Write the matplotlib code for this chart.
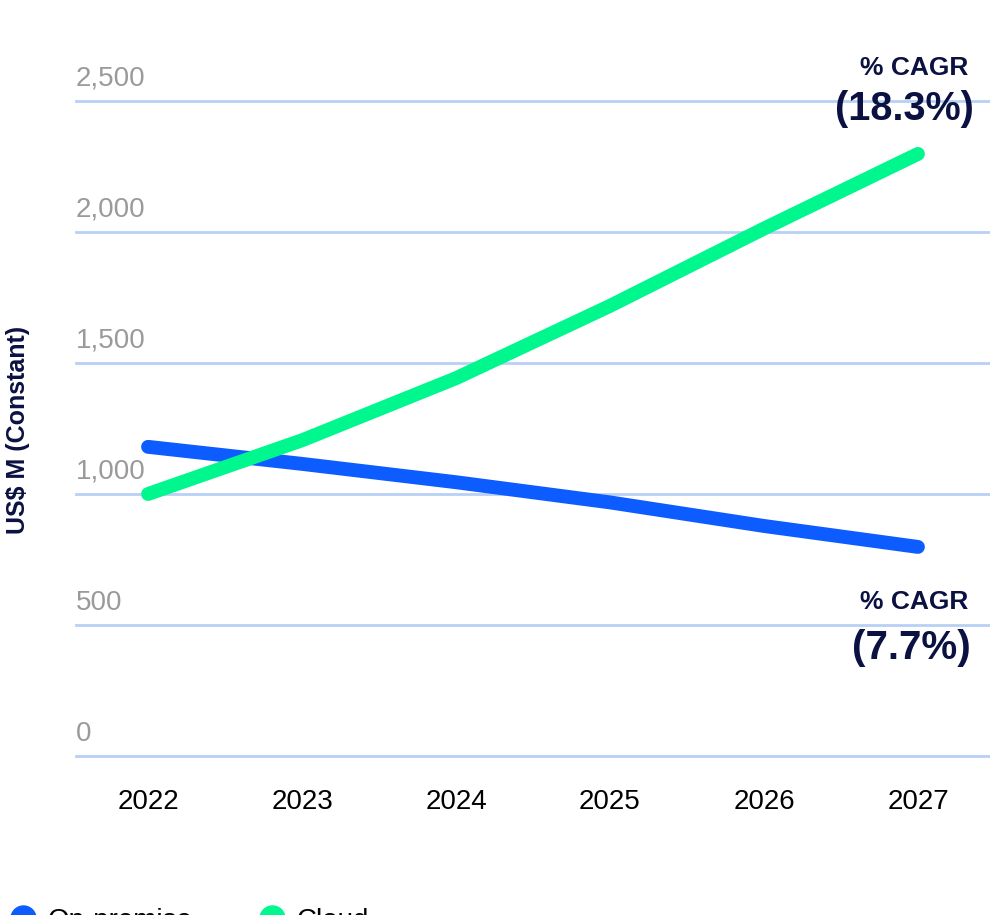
import matplotlib
matplotlib.use("Agg")
import matplotlib.pyplot as plt
from matplotlib.lines import Line2D
from matplotlib.transforms import blended_transform_factory

plt.rcParams['font.family'] = ['Liberation Sans', 'DejaVu Sans']

years = [2022, 2023, 2024, 2025, 2026, 2027]
on_premise = [1180, 1115, 1045, 968, 878, 798]
cloud = [1000, 1205, 1442, 1718, 2013, 2298]
y_ticks = [0, 500, 1000, 1500, 2000, 2500]
y_tick_labels = ["0", "500", "1,000", "1,500", "2,000", "2,500"]
series_names = ["On-premise", "Cloud"]
cagr_labels = ["(7.7%)", "(18.3%)"]

BLUE = '#0c5cff'
GREEN = '#00f78e'
NAVY = '#0b1140'
GRID = '#b9d0f6'
GRAY = '#9a9a9a'

fig = plt.figure(figsize=(9.9, 9.15), dpi=100)
ax = fig.add_axes([76/990, 1 - 756/915, 1 - 76/990, (756 - 101)/915])

ax.set_xlim(2021.532, 2027.468)
ax.set_ylim(0, 2500)

for v in y_ticks:
    ax.axhline(v, color=GRID, lw=2, zorder=1, clip_on=False)

ax.plot(years, on_premise, color=BLUE, lw=10, solid_capstyle='round',
        clip_on=False, zorder=3)
ax.plot(years, cloud, color=GREEN, lw=10, solid_capstyle='round',
        clip_on=False, zorder=4)

for sp in ax.spines.values():
    sp.set_visible(False)
ax.set_yticks([])
ax.set_xticks(years)
ax.set_xticklabels([str(y) for y in years], fontsize=20, color='black')
ax.tick_params(axis='x', length=0, pad=24)

trans = blended_transform_factory(ax.transAxes, ax.transData)
for v, lab in zip(y_ticks, y_tick_labels):
    ax.text(0.0, v + 35, lab, transform=trans, ha='left', va='bottom',
            fontsize=20, color=GRAY)

fig.text(18/990, 1 - 430/915, "US$ M (Constant)", rotation=90, ha='center',
         va='center', fontsize=18, fontweight='bold', color=NAVY)

# CAGR annotations
fig.text(968/990, 1 - 68/915, "% CAGR", ha='right', va='center',
         fontsize=19, fontweight='bold', color=NAVY)
fig.text(974/990, 1 - 109/915, cagr_labels[1], ha='right', va='center',
         fontsize=28.5, fontweight='bold', color=NAVY)
fig.text(968/990, 1 - 602/915, "% CAGR", ha='right', va='center',
         fontsize=19, fontweight='bold', color=NAVY)
fig.text(971/990, 1 - 648/915, cagr_labels[0], ha='right', va='center',
         fontsize=29, fontweight='bold', color=NAVY)

handles = [Line2D([], [], marker='o', ls='none', markersize=18,
                  markerfacecolor=c, markeredgecolor=c) for c in (BLUE, GREEN)]
fig.legend(handles, series_names, loc='upper left',
           bbox_to_anchor=(10/990, 1 - 908/915), frameon=False, ncol=2,
           fontsize=20, handletextpad=0.45, columnspacing=2.4,
           borderaxespad=0, borderpad=0, handlelength=0.9)

fig.savefig("out.png", dpi=100)
